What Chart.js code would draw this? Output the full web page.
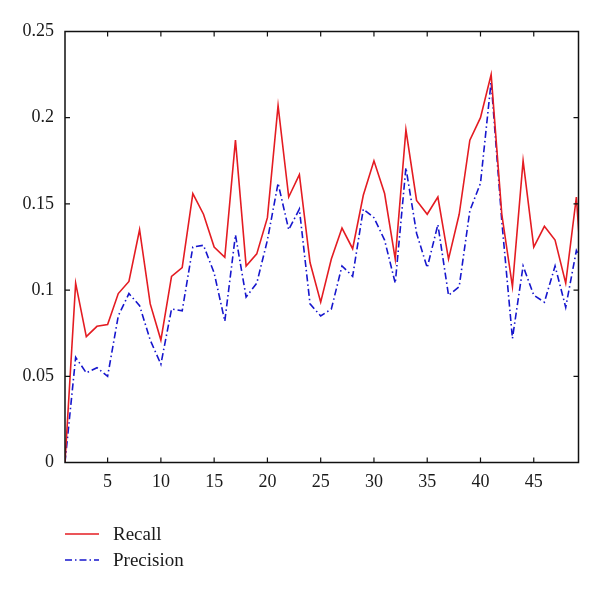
<!DOCTYPE html>
<html>
<head>
<meta charset="utf-8">
<script src="https://cdn.jsdelivr.net/npm/chart.js@4.4.1/dist/chart.umd.min.js"></script>
<style>
  html, body { margin: 0; padding: 0; background: #fff; }
  #wrap { width: 600px; height: 592px; }
</style>
</head>
<body>
<div id="wrap"><canvas id="prChart" width="600" height="592"></canvas></div>
<script>
// run index 1..50 (last one sits just past the right frame and is clipped)
const runs = Array.from({ length: 50 }, (_, i) => i + 1);

const recall = [
  0, 0.104, 0.073, 0.079, 0.080, 0.098, 0.105, 0.135, 0.092, 0.071,
  0.108, 0.113, 0.156, 0.144, 0.125, 0.119, 0.187, 0.114, 0.121, 0.142,
  0.207, 0.154, 0.167, 0.116, 0.093, 0.118, 0.136, 0.124, 0.155, 0.175,
  0.156, 0.118, 0.193, 0.152, 0.144, 0.154, 0.118, 0.144, 0.187, 0.200,
  0.225, 0.144, 0.102, 0.175, 0.125, 0.137, 0.129, 0.104, 0.154, 0.064
];

const precision = [
  0, 0.061, 0.052, 0.055, 0.050, 0.085, 0.098, 0.091, 0.071, 0.057,
  0.089, 0.088, 0.125, 0.126, 0.110, 0.082, 0.132, 0.096, 0.104, 0.129,
  0.162, 0.135, 0.147, 0.092, 0.085, 0.089, 0.114, 0.108, 0.147, 0.142,
  0.129, 0.104, 0.171, 0.133, 0.113, 0.138, 0.097, 0.102, 0.146, 0.162,
  0.221, 0.140, 0.072, 0.114, 0.097, 0.093, 0.114, 0.090, 0.123, 0.110
];

const xTicks = [5, 10, 15, 20, 25, 30, 35, 40, 45];
const yTicks = [0, 0.05, 0.1, 0.15, 0.2, 0.25];

const FONT = '"Liberation Serif", "DejaVu Serif", serif';

const toPoints = (vals) => vals.map((v, i) => ({ x: runs[i], y: v }));

// box around the plot with ticks pointing inward on all four sides
const frameBox = {
  id: 'frameBox',
  afterDatasetsDraw(chart) {
    const { ctx, chartArea: a, scales } = chart;
    const len = 5;
    ctx.save();
    ctx.strokeStyle = '#111';
    ctx.lineWidth = 1.5;
    ctx.strokeRect(a.left, a.top, a.right - a.left, a.bottom - a.top);
    ctx.lineWidth = 1.2;
    ctx.beginPath();
    scales.x.ticks.forEach(t => {
      const px = scales.x.getPixelForValue(t.value);
      ctx.moveTo(px, a.bottom); ctx.lineTo(px, a.bottom - len);
      ctx.moveTo(px, a.top); ctx.lineTo(px, a.top + len);
    });
    scales.y.ticks.forEach(t => {
      const py = scales.y.getPixelForValue(t.value);
      ctx.moveTo(a.left, py); ctx.lineTo(a.left + len, py);
      ctx.moveTo(a.right, py); ctx.lineTo(a.right - len, py);
    });
    ctx.stroke();
    ctx.restore();
  }
};

// legend stacked under the plot, left aligned with the frame
const stackedLegend = {
  id: 'stackedLegend',
  afterDraw(chart) {
    const { ctx, chartArea: a } = chart;
    const rows = [534, 560];
    ctx.save();
    ctx.font = '19px ' + FONT;
    ctx.textBaseline = 'middle';
    chart.data.datasets.forEach((ds, i) => {
      const y = rows[i];
      ctx.strokeStyle = ds.borderColor;
      ctx.lineWidth = ds.borderWidth;
      ctx.setLineDash(ds.borderDash || []);
      ctx.beginPath();
      ctx.moveTo(a.left, y);
      ctx.lineTo(a.left + 34, y);
      ctx.stroke();
      ctx.setLineDash([]);
      ctx.fillStyle = '#1a1a1a';
      ctx.fillText(ds.label, a.left + 48, y + 1);
    });
    ctx.restore();
  }
};

new Chart(document.getElementById('prChart'), {
  type: 'line',
  data: {
    datasets: [
      {
        label: 'Recall',
        data: toPoints(recall),
        borderColor: 'rgb(228, 28, 34)',
        borderWidth: 1.6,
        pointRadius: 0,
        tension: 0
      },
      {
        label: 'Precision',
        data: toPoints(precision),
        borderColor: 'rgb(22, 22, 205)',
        borderWidth: 1.6,
        borderDash: [7, 3, 1.5, 3],
        pointRadius: 0,
        tension: 0
      }
    ]
  },
  options: {
    responsive: false,
    animation: false,
    layout: { padding: { top: 31.5, right: 21.5, left: 0, bottom: 0 } },
    plugins: {
      legend: { display: false },
      tooltip: { enabled: false }
    },
    scales: {
      x: {
        type: 'linear',
        min: 1,
        max: 49.2,
        afterBuildTicks: (s) => { s.ticks = xTicks.map(v => ({ value: v })); },
        afterFit: (s) => { s.height = 129.5; },
        grid: { display: false, drawTicks: false },
        border: { display: false },
        ticks: {
          color: '#1a1a1a',
          font: { family: FONT, size: 18 },
          padding: 9,
          maxRotation: 0,
          autoSkip: false,
          callback: (v) => String(v)
        }
      },
      y: {
        min: 0,
        max: 0.25,
        afterBuildTicks: (s) => { s.ticks = yTicks.map(v => ({ value: v })); },
        afterFit: (s) => { s.width = 65; },
        grid: { display: false, drawTicks: false },
        border: { display: false },
        ticks: {
          color: '#1a1a1a',
          font: { family: FONT, size: 18 },
          padding: 11,
          callback: (v) => String(Number(v.toFixed(2)))
        }
      }
    }
  },
  plugins: [frameBox, stackedLegend]
});
</script>
</body>
</html>
